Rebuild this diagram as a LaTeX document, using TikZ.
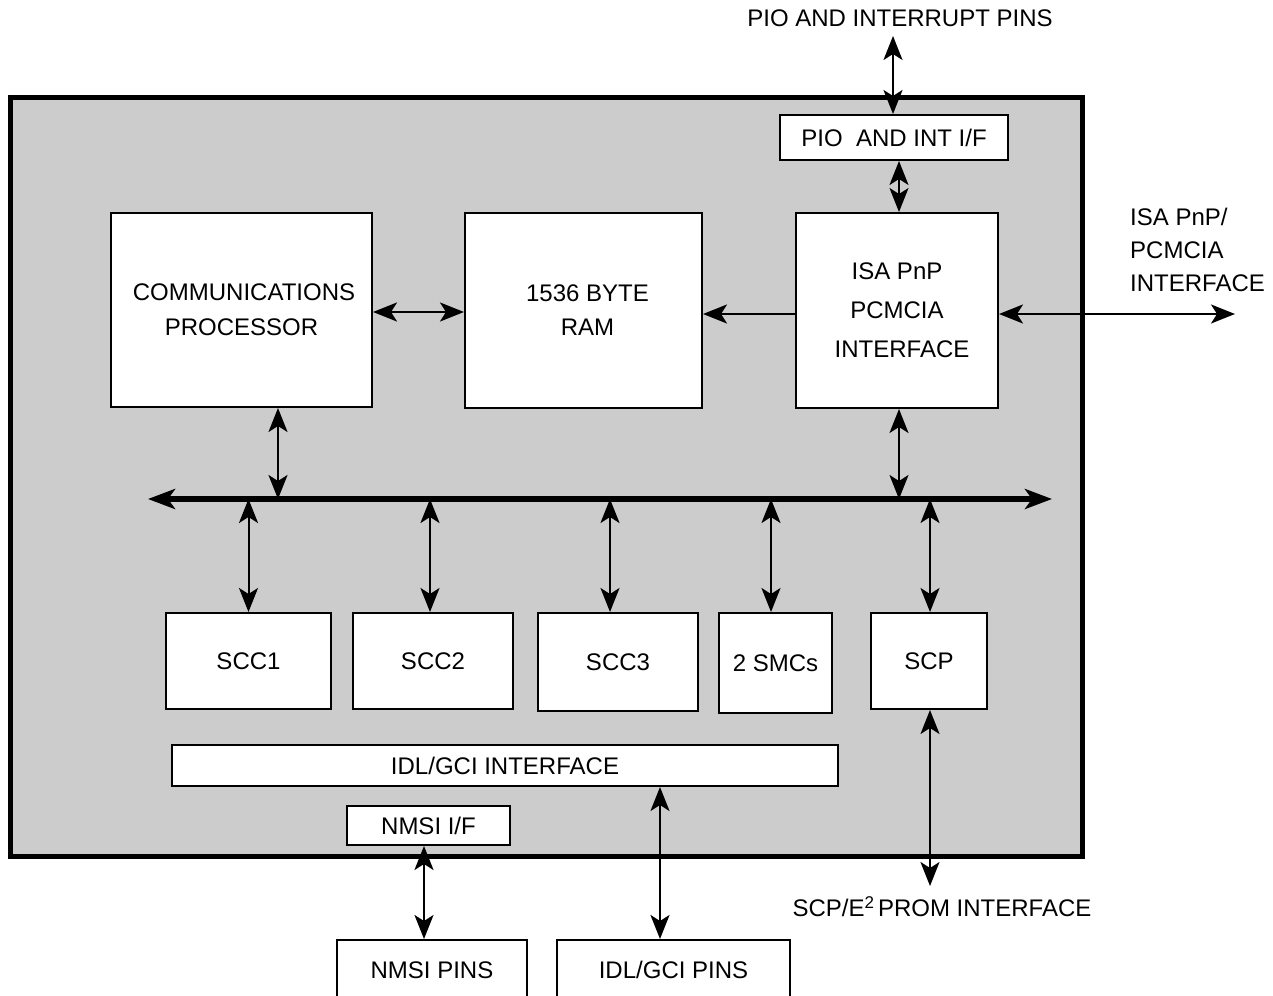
\documentclass[tikz,border=0pt]{standalone}
\usepackage{fontspec}
\setmainfont{Liberation Sans}
\usetikzlibrary{arrows.meta}
\tikzset{
  box/.style={draw=black, line width=2pt, fill=white, inner sep=0pt, align=center,
    font=\fontsize{24}{35}\selectfont},
  lbl/.style={inner sep=0pt, font=\fontsize{24}{33}\selectfont},
  conn/.style={line width=2pt, {Stealth[length=24pt,width=19pt,inset=6pt]}-{Stealth[length=24pt,width=19pt,inset=6pt]}},
  connR/.style={line width=2pt, -{Stealth[length=24pt,width=19pt,inset=6pt]}},
  bus/.style={line width=5.5pt, {Stealth[length=27pt,width=20pt,inset=7pt]}-{Stealth[length=27pt,width=20pt,inset=7pt]}},
}
\begin{document}
\begin{tikzpicture}[x=1pt,y=-1pt]
\useasboundingbox (0,0) rectangle (1273,995);
\fill[white] (0,0) rectangle (1273,995);
% outer chip
\draw[line width=5pt, fill=black!20] (10,98) rectangle (1082,856);

% top label and PIO interface
\node[lbl] (piopins) at (900,18) {PIO AND INTERRUPT PINS};
\node[box, minimum width=228, minimum height=45] (pioif) at (894,137.5) {PIO\ \ AND INT I/F};

% main blocks
\node[box, minimum width=261, minimum height=194] (comm) at (241.5,310) {\hspace*{5pt}COMMUNICATIONS\\PROCESSOR};
\node[box, minimum width=237, minimum height=195, font=\fontsize{24}{34}\selectfont] (ram) at (583.5,310.5) {\hspace*{8pt}1536 BYTE\\\hspace*{8pt}RAM};
\node[box, minimum width=202, minimum height=195, font=\fontsize{24}{39}\selectfont] (isa) at (897,310.5) {ISA PnP\\PCMCIA\\\hspace*{10pt}INTERFACE};
\node[lbl, align=left, anchor=north west] (isaext) at (1130,208) {ISA PnP/\\PCMCIA\\INTERFACE};
\coordinate (isaextend) at (1235,314);

% bus
\coordinate (busL) at (148,499);
\coordinate (busR) at (1052,499);
\draw[bus] (busL) -- (busR);

% lower blocks
\node[box, minimum width=165, minimum height=96] (scc1) at (248.5,661) {SCC1};
\node[box, minimum width=160, minimum height=96] (scc2) at (433,661) {SCC2};
\node[box, minimum width=160, minimum height=98] (scc3) at (618,662) {SCC3};
\node[box, minimum width=113, minimum height=100] (smc) at (775.5,663) {2 SMCs};
\node[box, minimum width=116, minimum height=96] (scp) at (929,661) {SCP};
\node[box, minimum width=666, minimum height=41] (idl) at (505,765.5) {IDL/GCI INTERFACE};
\node[box, minimum width=163, minimum height=39] (nmsiif) at (428.5,825.5) {NMSI I/F};

% external bottom
\node[box, minimum width=190, minimum height=60] (nmsipins) at (432,970) {NMSI PINS};
\node[box, minimum width=233, minimum height=60] (idlpins) at (673.5,970) {IDL/GCI PINS};
\node[lbl] (scpext) at (942,907) {SCP/E\raisebox{8pt}{\fontsize{17}{17}\selectfont 2}\,PROM INTERFACE};
\coordinate (scpend) at (930,886);

% connectors
\coordinate (pt1) at (893,36);
\draw[conn] (pt1) -- (pt1 |- pioif.north);
\draw[conn] ([xshift=5pt]pioif.south) -- ([xshift=5pt]pioif.south |- isa.north);
\draw[conn] (comm.east |- 0,312) -- (ram.west |- 0,312);
\draw[connR] (isa.west |- 0,314) -- (ram.east |- 0,314);
\draw[conn] (isa.east |- 0,314) -- (isaextend);
\draw[conn] (278,0 |- comm.south) -- (278,0 |- busL);
\draw[conn] (899,0 |- isa.south) -- (899,0 |- busL);
\draw[conn] (scc1.north) -- (scc1.north |- busL);
\draw[conn] ([xshift=-3pt]scc2.north) -- ([xshift=-3pt]scc2.north |- busL);
\draw[conn] ([xshift=-8pt]scc3.north) -- ([xshift=-8pt]scc3.north |- busL);
\draw[conn] ([xshift=-4.5pt]smc.north) -- ([xshift=-4.5pt]smc.north |- busL);
\draw[conn] ([xshift=1pt]scp.north) -- ([xshift=1pt]scp.north |- busL);
\draw[conn] ([xshift=1pt]scp.south) -- (scpend);
\draw[conn] ([xshift=-4.5pt]nmsiif.south) -- ([xshift=-4.5pt]nmsiif.south |- nmsipins.north);
\draw[conn] (660,0 |- idl.south) -- (660,0 |- idlpins.north);
\end{tikzpicture}
\end{document}
